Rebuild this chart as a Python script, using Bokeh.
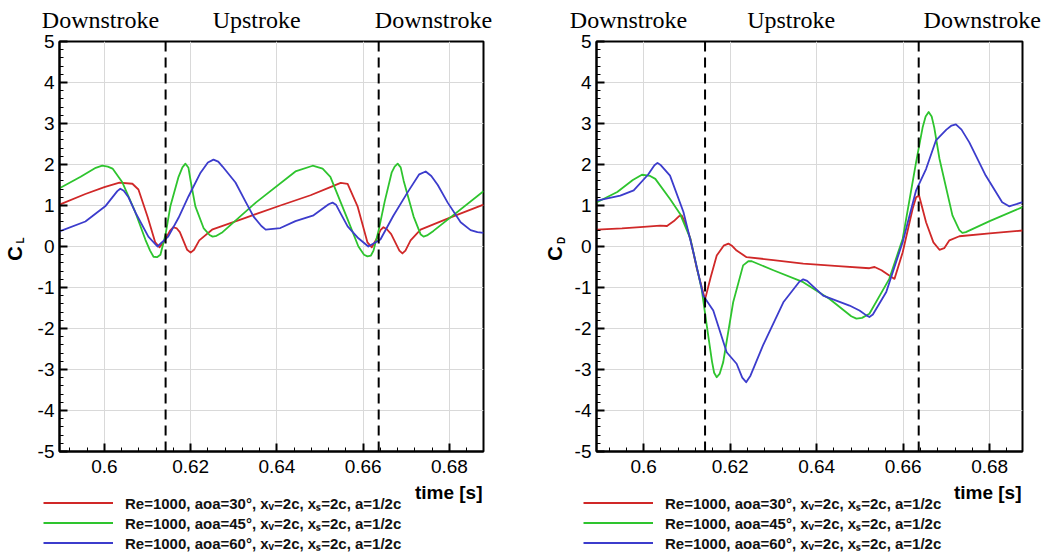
from bokeh.plotting import figure
from bokeh.models import Span, Legend, LegendItem, FixedTicker, Range1d, LinearAxis, Label
from bokeh.layouts import row, column
from bokeh.embed import file_html
from bokeh.resources import INLINE

# ---------------- data ----------------
series_labels = [
    "Re=1000, aoa=30\u00b0, x\u1d65=2c, x\u209b=2c, a=1/2c",
    "Re=1000, aoa=45\u00b0, x\u1d65=2c, x\u209b=2c, a=1/2c",
    "Re=1000, aoa=60\u00b0, x\u1d65=2c, x\u209b=2c, a=1/2c",
]
x_ticks = [0.6, 0.62, 0.64, 0.66, 0.68]
x_tick_labels = ["0.6", "0.62", "0.64", "0.66", "0.68"]
y_ticks = [-5, -4, -3, -2, -1, 0, 1, 2, 3, 4, 5]
y_tick_labels = ["-5", "-4", "-3", "-2", "-1", "0", "1", "2", "3", "4", "5"]
stroke_times = [0.6142, 0.6636]
phase_labels = ["Downstroke", "Upstroke", "Downstroke"]
x_title = "time [s]"

# Lift coefficient C_L
cl_red_t = [0.5896, 0.5956, 0.6000, 0.6035, 0.6065, 0.6079, 0.6100, 0.6118, 0.6128, 0.6140,
            0.6152, 0.6160, 0.6168, 0.6175, 0.6192, 0.6200, 0.6208, 0.6220, 0.6251, 0.6327,
            0.6408, 0.6478, 0.6524, 0.6548, 0.6564, 0.6587, 0.6610, 0.6620, 0.6632, 0.6640,
            0.6647, 0.6655, 0.6665, 0.6684, 0.6691, 0.6698, 0.6710, 0.6733, 0.6800, 0.6879]
cl_red_v = [1.02, 1.28, 1.45, 1.56, 1.53, 1.39, 0.73, 0.10, -0.02, 0.15,
            0.38, 0.47, 0.44, 0.35, -0.08, -0.15, -0.08, 0.15, 0.42, 0.70,
            1.00, 1.25, 1.45, 1.55, 1.53, 0.98, 0.10, -0.02, 0.20, 0.40,
            0.47, 0.42, 0.30, -0.10, -0.17, -0.10, 0.15, 0.41, 0.70, 1.02]

cl_green_t = [0.5896, 0.5945, 0.5980, 0.5995, 0.6008, 0.6019, 0.6042, 0.6072, 0.6095, 0.6106,
              0.6114, 0.6122, 0.6130, 0.6142, 0.6153, 0.6172, 0.6181, 0.6188, 0.6195, 0.6200,
              0.6211, 0.6230, 0.6244, 0.6251, 0.6260, 0.6274, 0.6351, 0.6443, 0.6483, 0.6506,
              0.6524, 0.6564, 0.6589, 0.6602, 0.6610, 0.6618, 0.6624, 0.6636, 0.6650, 0.6666,
              0.6673, 0.6680, 0.6687, 0.6694, 0.6717, 0.6733, 0.6740, 0.6748, 0.6763, 0.6879]
cl_green_v = [1.42, 1.70, 1.92, 1.97, 1.95, 1.90, 1.56, 0.83, 0.17, -0.10,
              -0.25, -0.26, -0.20, 0.30, 0.98, 1.70, 1.93, 2.02, 1.92, 1.60,
              0.98, 0.45, 0.28, 0.24, 0.26, 0.35, 1.07, 1.83, 1.97, 1.90,
              1.70, 0.66, 0.00, -0.20, -0.24, -0.22, -0.10, 0.40, 1.10, 1.80,
              1.95, 2.02, 1.93, 1.60, 0.73, 0.30, 0.24, 0.27, 0.38, 1.35]

cl_blue_t = [0.5896, 0.5956, 0.6002, 0.6030, 0.6037, 0.6045, 0.6056, 0.6072, 0.6102, 0.6123,
             0.6148, 0.6172, 0.6195, 0.6223, 0.6240, 0.6253, 0.6264, 0.6274, 0.6304, 0.6327,
             0.6346, 0.6364, 0.6374, 0.6408, 0.6443, 0.6485, 0.6520, 0.6529, 0.6537, 0.6548,
             0.6564, 0.6589, 0.6612, 0.6640, 0.6670, 0.6703, 0.6730, 0.6745, 0.6758, 0.6773,
             0.6796, 0.6826, 0.6849, 0.6865, 0.6879]
cl_blue_v = [0.37, 0.61, 0.98, 1.35, 1.41, 1.36, 1.20, 0.83, 0.24, 0.00,
             0.24, 0.70, 1.22, 1.80, 2.05, 2.12, 2.07, 1.95, 1.56, 1.10,
             0.73, 0.50, 0.41, 0.45, 0.62, 0.76, 1.03, 1.07, 1.02, 0.80,
             0.49, 0.20, 0.00, 0.17, 0.75, 1.32, 1.76, 1.83, 1.72, 1.50,
             1.07, 0.59, 0.40, 0.35, 0.33]

# Drag coefficient C_D
cd_red_t = [0.5892, 0.5950, 0.6000, 0.6038, 0.6054, 0.6070, 0.6082, 0.6088, 0.6097, 0.6108,
            0.6123, 0.6142, 0.6155, 0.6169, 0.6185, 0.6196, 0.6205, 0.6215, 0.6238, 0.6300,
            0.6369, 0.6450, 0.6522, 0.6534, 0.6550, 0.6568, 0.6580, 0.6599, 0.6622, 0.6630,
            0.6637, 0.6653, 0.6670, 0.6684, 0.6695, 0.6707, 0.6730, 0.6800, 0.6876]
cd_red_v = [0.41, 0.44, 0.48, 0.51, 0.50, 0.62, 0.74, 0.76, 0.55, 0.19,
            -0.54, -1.29, -0.75, -0.22, 0.02, 0.07, 0.01, -0.10, -0.26, -0.33,
            -0.42, -0.48, -0.53, -0.50, -0.58, -0.71, -0.79, -0.14, 0.92, 1.20,
            1.24, 0.59, 0.10, -0.08, -0.04, 0.15, 0.25, 0.32, 0.39]

cd_green_t = [0.5892, 0.5939, 0.5975, 0.5996, 0.6015, 0.6027, 0.6061, 0.6084, 0.6108, 0.6134,
              0.6146, 0.6158, 0.6163, 0.6169, 0.6176, 0.6184, 0.6207, 0.6230, 0.6242, 0.6250,
              0.6300, 0.6369, 0.6430, 0.6480, 0.6492, 0.6505, 0.6522, 0.6568, 0.6599, 0.6630,
              0.6645, 0.6652, 0.6659, 0.6666, 0.6672, 0.6684, 0.6714, 0.6730, 0.6737, 0.6745,
              0.6800, 0.6876]
cd_green_v = [1.08, 1.33, 1.62, 1.75, 1.72, 1.65, 1.16, 0.80, 0.19, -1.03,
              -1.93, -2.80, -3.08, -3.19, -3.10, -2.82, -1.36, -0.46, -0.36, -0.36,
              -0.58, -0.87, -1.28, -1.70, -1.76, -1.74, -1.64, -0.79, 0.19, 2.06,
              2.90, 3.17, 3.28, 3.17, 2.90, 2.14, 0.76, 0.40, 0.33, 0.35,
              0.62, 0.96]

cd_blue_t = [0.5892, 0.5946, 0.5977, 0.6010, 0.6025, 0.6032, 0.6040, 0.6061, 0.6092, 0.6115,
             0.6138, 0.6161, 0.6192, 0.6215, 0.6228, 0.6237, 0.6247, 0.6276, 0.6323, 0.6360,
             0.6369, 0.6378, 0.6415, 0.6476, 0.6499, 0.6515, 0.6522, 0.6530, 0.6561, 0.6599,
             0.6630, 0.6653, 0.6676, 0.6700, 0.6712, 0.6722, 0.6735, 0.6753, 0.6791, 0.6829,
             0.6845, 0.6876]
cd_blue_v = [1.12, 1.24, 1.37, 1.75, 1.98, 2.04, 1.98, 1.73, 0.84, -0.14,
             -1.20, -1.56, -2.58, -2.86, -3.20, -3.31, -3.15, -2.41, -1.36, -0.86,
             -0.80, -0.84, -1.20, -1.44, -1.56, -1.68, -1.72, -1.66, -1.11, 0.11,
             1.37, 1.89, 2.59, 2.85, 2.95, 2.98, 2.85, 2.54, 1.73, 1.08,
             0.98, 1.08]

colors = ["#d02828", "#2ec42e", "#3c3ccc"]

SANS = "Liberation Sans"
SERIF = "Liberation Serif"
TOP_H = 480
BOT_H = 74


def text_axis(ticks, labels, font, size, style, standoff, orientation="horizontal"):
    return LinearAxis(ticker=FixedTicker(ticks=ticks, minor_ticks=[]),
                      major_label_overrides={t: s for t, s in zip(ticks, labels)},
                      axis_line_color=None, major_tick_line_color=None,
                      minor_tick_line_color=None, major_tick_in=0, major_tick_out=0,
                      minor_tick_in=0, minor_tick_out=0,
                      major_label_text_font=font, major_label_text_font_size=size,
                      major_label_text_font_style=style, major_label_text_color="black",
                      major_label_standoff=standoff, major_label_orientation=orientation)


def make_panel(width, bl, br, xr, series, ylab_main, ylab_sub, phase_x, sub_so, main_so):
    p = figure(width=width, height=TOP_H, output_backend="svg", toolbar_location=None,
               x_range=Range1d(*xr), y_range=Range1d(-5, 5),
               min_border_left=bl, min_border_right=br, min_border_top=41,
               min_border_bottom=TOP_H - 451)
    p.background_fill_color = "white"
    p.border_fill_color = "white"
    p.outline_line_color = "black"
    p.outline_line_width = 2

    x_minor = [round(0.588 + 0.004 * i, 4) for i in range(26)]
    y_minor = [round(-5 + 0.2 * i, 1) for i in range(51)]
    for ax, ticks, labs, minor in ((p.xaxis[0], x_ticks, x_tick_labels, x_minor),
                                   (p.yaxis[0], y_ticks, y_tick_labels, y_minor)):
        ax.ticker = FixedTicker(ticks=ticks, minor_ticks=minor)
        ax.major_label_overrides = {t: s for t, s in zip(ticks, labs)}
        ax.axis_line_width = 2
        ax.axis_line_color = "black"
        ax.major_tick_in = 8
        ax.major_tick_out = 0
        ax.minor_tick_in = 4
        ax.minor_tick_out = 0
        ax.major_tick_line_width = 2
        ax.major_label_text_font = SANS
        ax.major_label_text_font_size = "19px"
        ax.major_label_text_color = "black"
    p.xaxis[0].major_label_standoff = 8
    p.yaxis[0].major_label_standoff = 5

    p.xgrid.grid_line_color = "#d9d9d9"
    p.ygrid.grid_line_color = "#d9d9d9"
    p.xgrid.ticker = FixedTicker(ticks=x_ticks)
    p.ygrid.ticker = FixedTicker(ticks=y_ticks)

    for st in stroke_times:
        p.add_layout(Span(location=st, dimension="height", line_color="black",
                          line_width=2, line_dash="10 6"))

    for (t, v), c in zip(series, colors):
        p.line(t, v, line_color=c, line_width=1.8, line_join="round")

    # phase labels above the frame
    p.add_layout(text_axis(phase_x, phase_labels, SERIF, "24px", "normal", 9), "above")

    # y-axis title C with subscript, built from two label-only axes
    p.add_layout(text_axis([0.15], [ylab_sub], SANS, "10px", "bold", sub_so, "vertical"), "left")
    p.add_layout(text_axis([-0.17], [ylab_main], SANS, "20px", "bold", main_so, "vertical"), "left")
    return p


def make_legend_band(width, series, legend_x, title_right):
    q = figure(width=width, height=BOT_H, output_backend="svg", toolbar_location=None,
               x_range=Range1d(0, width), y_range=Range1d(0, BOT_H),
               x_axis_type=None, y_axis_type=None, min_border=0)
    q.outline_line_color = None
    q.grid.visible = False
    q.background_fill_color = "white"
    q.border_fill_color = "white"
    items = []
    for (t, v), c, lab in zip(series, colors, series_labels):
        r = q.line(t, v, line_color=c, line_width=1.8, visible=False)
        items.append(LegendItem(label=lab, renderers=[r]))
    leg = Legend(items=items, location=(legend_x, 1.5), padding=0, margin=0, spacing=0,
                 label_height=19, glyph_height=19, glyph_width=70, label_standoff=12,
                 border_line_color=None, background_fill_alpha=0, inactive_fill_alpha=0,
                 label_text_font=SANS, label_text_font_style="bold",
                 label_text_font_size="15px", label_text_color="#111111")
    q.add_layout(leg)
    q.add_layout(Label(x=title_right, y=BOT_H - 12, text=x_title, text_align="right",
                       text_baseline="alphabetic", text_font=SANS, text_font_style="bold",
                       text_font_size="19px", text_color="black"))
    return q


cl_series = [(cl_red_t, cl_red_v), (cl_green_t, cl_green_v), (cl_blue_t, cl_blue_v)]
cd_series = [(cd_red_t, cd_red_v), (cd_green_t, cd_green_v), (cd_blue_t, cd_blue_v)]

p1 = make_panel(530, 59, 47, (0.5896, 0.6879), cl_series, "C", "L",
                [0.5991, 0.6353, 0.6763], 8, -14)
p2 = make_panel(523, 66, 31, (0.5891, 0.6876), cd_series, "C", "D",
                [0.5965, 0.6341, 0.6783], 4, -13)
q1 = make_legend_band(530, cl_series, 43, 482)
q2 = make_legend_band(523, cd_series, 53, 491)

layout = column(row(p1, p2, spacing=0), row(q1, q2, spacing=0), spacing=0)
open("out.html", "w").write(file_html(layout, INLINE))
